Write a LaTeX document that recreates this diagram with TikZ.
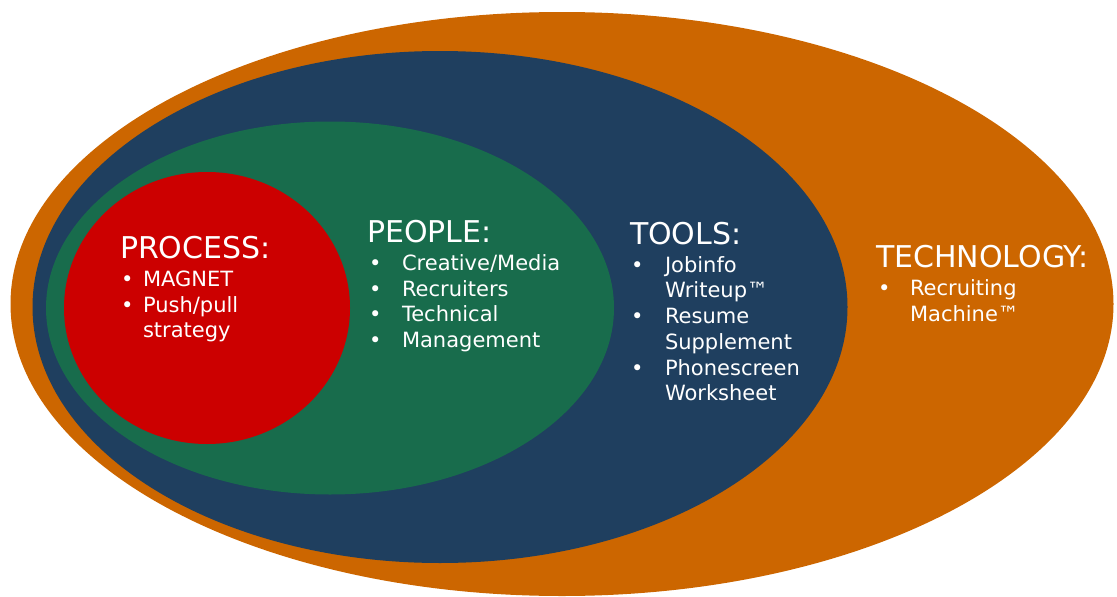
\documentclass[tikz,border=0pt]{standalone}
\usepackage{fontspec}
\setmainfont{DejaVu Sans}
\usetikzlibrary{shapes.geometric,positioning}
\definecolor{techorange}{RGB}{204,102,0}
\definecolor{toolsnavy}{RGB}{31,63,95}
\definecolor{peoplegreen}{RGB}{24,108,76}
\definecolor{processred}{RGB}{204,0,0}

\begin{document}
\begin{tikzpicture}
[x=1pt,y=-1pt,
 every node/.style={inner sep=0pt,outer sep=0pt,text=white},
 ring/.style={ellipse,draw=none},
 head/.style={anchor=base west,font=\fontsize{30}{32}\selectfont},
 item/.style={anchor=base west,font=\fontsize{21}{25.5}\selectfont}]
\useasboundingbox (0,0) rectangle (1117,597);
\node[ring,fill=techorange,minimum width=1103pt,minimum height=584pt] (tech)    at (562,304) {};
\node[ring,fill=toolsnavy,  minimum width=815pt, minimum height=512pt] (tools)   at (440,307) {};
\node[ring,fill=peoplegreen,minimum width=568pt, minimum height=373pt] (people)  at (330,308) {};
\node[ring,fill=processred, minimum width=286pt, minimum height=272pt] (process) at (207,308) {};
% process
\node[head] (proH)  at (120,258) {PROCESS:};
\node[item] (proB1) at (121,286) {•};
\node[item] (proT1) at (143,286) {MAGNET};
\node[item] (proB2) at (121,312) {•};
\node[item] (proT2) at (143,312) {Push/pull};
\node[item] (proT3) at (143,337) {strategy};
% people
\node[head] (peoH)  at (367,242) {PEOPLE:};
\node[item] (peoB1) at (369,270) {•};
\node[item] (peoT1) at (402,270) {Creative/Media};
\node[item] (peoB2) at (369,296) {•};
\node[item] (peoT2) at (402,296) {Recruiters};
\node[item] (peoB3) at (369,321) {•};
\node[item] (peoT3) at (402,321) {Technical};
\node[item] (peoB4) at (369,347) {•};
\node[item] (peoT4) at (402,347) {Management};
% tools
\node[head] (tooH)  at (630,244) {TOOLS:};
\node[item] (tooB1) at (631,272) {•};
\node[item] (tooT1) at (665,272) {Jobinfo};
\node[item] (tooT2) at (665,297) {Writeup™};
\node[item] (tooB3) at (631,323) {•};
\node[item] (tooT3) at (665,323) {Resume};
\node[item] (tooT4) at (665,349) {Supplement};
\node[item] (tooB5) at (631,375) {•};
\node[item] (tooT5) at (665,375) {Phonescreen};
\node[item] (tooT6) at (665,400) {Worksheet};
% technology
\node[head] (tecH)  at (876,267) {TECHNOLOGY:};
\node[item] (tecB1) at (878,295) {•};
\node[item] (tecT1) at (910,295) {Recruiting};
\node[item] (tecT2) at (910,321) {Machine™};
\end{tikzpicture}
\end{document}
